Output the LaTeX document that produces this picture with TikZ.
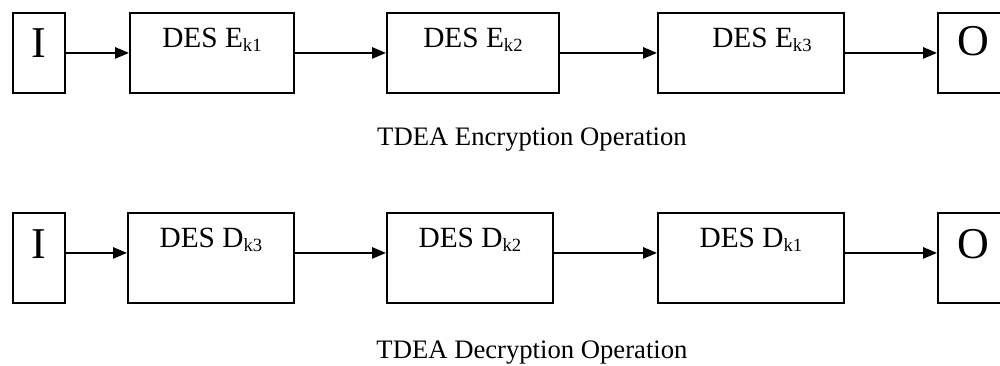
\documentclass[tikz,border=0pt]{standalone}
\usepackage{fontspec}
\setmainfont{Liberation Serif}
\usetikzlibrary{arrows.meta}

% subscript key label, e.g. \ks{k1}
\newcommand{\ks}[1]{\raisebox{-2.4pt}{\fontsize{14}{14}\selectfont #1}}

\begin{document}
\begin{tikzpicture}[x=0.75pt,y=-0.75pt,
  box/.style={draw=black, line width=1.4pt, inner sep=0pt, anchor=north west},
  iobox/.style={box, font=\fontsize{33}{33}\selectfont},
  desbox/.style={box, font=\fontsize{22}{22}\selectfont,
    minimum height=60pt, text height=26.25pt, text depth=33.75pt},
  desboxlow/.style={box, font=\fontsize{22}{22}\selectfont,
    minimum height=67.5pt, text height=26.25pt, text depth=41.25pt},
  flow/.style={draw=black, line width=1.3pt, -{Triangle[length=10.5pt,width=8.5pt]}},
  caption/.style={font=\fontsize{20}{20}\selectfont, anchor=base}]

  \clip (0,0) rectangle (1000,366);

  % ---- encryption chain ----
  \node[iobox, minimum width=39pt, text height=33.75pt, text depth=26.25pt] (i1) at (12,12) {I};
  \node[desbox, minimum width=123pt] (e1) at (129,12) {DES E\ks{k1}};
  \node[desbox, minimum width=129pt] (e2) at (386,12) {DES E\ks{k2}};
  \node[desbox, minimum width=139.5pt] (e3) at (657,12) {\hspace*{16.5pt}DES E\ks{k3}};
  \node[iobox, minimum width=52.5pt, text height=32.25pt, text depth=27.75pt] (o1) at (937,12) {O};

  \draw[flow] (i1.east) -- (e1.west);
  \draw[flow] (e1.east) -- (e2.west);
  \draw[flow] (e2.east) -- (e3.west);
  \draw[flow] (e3.east) -- (o1.west);

  \node[caption] (cap1) at (532,146) {TDEA Encryption Operation};

  % ---- decryption chain ----
  \node[iobox, minimum width=39pt, text height=34.5pt, text depth=33pt] (i2) at (12,212) {I};
  \node[desboxlow, minimum width=124.5pt] (d1) at (127,212) {DES D\ks{k3}};
  \node[desboxlow, minimum width=124.5pt] (d2) at (386,212) {DES D\ks{k2}};
  \node[desboxlow, minimum width=139.5pt] (d3) at (657,212) {DES D\ks{k1}};
  \node[iobox, minimum width=52.5pt, text height=34.5pt, text depth=33pt] (o2) at (937,212) {O};

  \draw[flow] ([yshift=3.75pt]i2.east) -- ([yshift=3.75pt]d1.west);
  \draw[flow] ([yshift=3.75pt]d1.east) -- ([yshift=3.75pt]d2.west);
  \draw[flow] ([yshift=3.75pt]d2.east) -- ([yshift=3.75pt]d3.west);
  \draw[flow] ([yshift=3.75pt]d3.east) -- ([yshift=3.75pt]o2.west);

  \node[caption] (cap2) at (532,359) {TDEA Decryption Operation};
\end{tikzpicture}
\end{document}
